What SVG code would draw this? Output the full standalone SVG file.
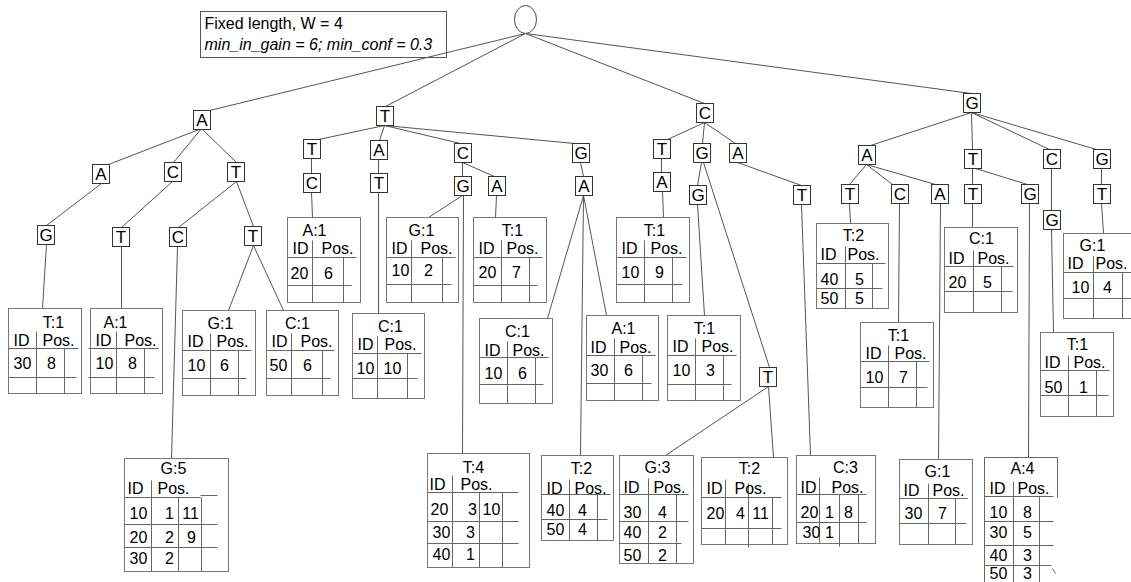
<svg xmlns="http://www.w3.org/2000/svg" width="1131" height="582" viewBox="0 0 1131 582">
<style>
.ln{stroke:#555;stroke-width:1;fill:none}
.bx{fill:#fff;stroke:#333;stroke-width:1}
.tb{fill:#fff;stroke:#777;stroke-width:1}
.tl{stroke:#666;stroke-width:1;fill:none}
text{font-family:"Liberation Sans",Arial,sans-serif;font-size:16px;fill:#000}
.c{text-anchor:middle}
.lt{font-size:17px;text-anchor:middle}
.it{font-style:italic}
</style>
<rect width="1131" height="582" fill="#fff"/>
<g transform="translate(0.5,0.5)">

<!-- parameters legend -->
<g id="legend">
  <rect x="200" y="11" width="246" height="46" fill="#fff" stroke="#555"/>
  <text x="204" y="28">Fixed length, W = 4</text>
  <text class="it" x="204" y="49">min_in_gain = 6; min_conf = 0.3</text>
</g>

<!-- tree edges -->
<g id="connectors" class="ln">
  <path d="M525,33L209,110M525,33L385,106M525,33L704,103M525,33L971,93"/>
  <path d="M201,128L108,164M201,128L173,162M201,128L236,162M101,183L46,225M172,181L121,227M236,181L178,227M236,181L253,226M46,244L42,308M121,246L121,308M177,246L171,458M253,245L228,310M253,245L283,310"/>
  <path d="M384,125L318,139M384,125L379,140M384,125L460,143M384,125L574,143M311,158L311,173M378,159L378,173M462,162L462,176M462,162L494,176M580,162L583,176M311,192L312,217M378,192L378,313M462,195L428,217M463,195L462,453M496,195L495,217M583,195L547,318M583,195L580,455M583,195L606,315"/>
  <path d="M704,122L667,139M704,122L702,143M704,122L735,143M661,158L661,172M701,162L697,185M703,162L769,367M737,162L801,185M662,191L663,217M697,204L704,315M768,386L665,455M768,386L773,457M801,204L810,455"/>
  <path d="M971,112L870,145M971,112L972,149M971,112L1049,149M971,112L1096,149M866,164L849,184M866,164L892,184M866,164L935,184M972,168L972,184M975,168L1027,184M1051,168L1051,210M1101,168L1101,184M849,203L850,223M899,203L898,322M940,203L938,459M972,203L972,227M1029,203L1028,457M1051,229L1053,332M1101,203L1103,233"/>
</g>

<!-- root -->
<g id="root"><ellipse cx="525" cy="19" rx="11" ry="14" fill="#fff" stroke="#444"/></g>

<!-- symbol nodes -->
<g id="n-A" transform="translate(193,110)"><rect class="bx" width="17" height="19"/><text class="lt" x="8.5" y="15.5">A</text></g>
<g id="n-T" transform="translate(376,106)"><rect class="bx" width="17" height="19"/><text class="lt" x="8.5" y="15.5">T</text></g>
<g id="n-C" transform="translate(696,103)"><rect class="bx" width="17" height="19"/><text class="lt" x="8.5" y="15.5">C</text></g>
<g id="n-G" transform="translate(963,93)"><rect class="bx" width="17" height="19"/><text class="lt" x="8.5" y="15.5">G</text></g>

<g id="n-AA" transform="translate(92,164)"><rect class="bx" width="17" height="19"/><text class="lt" x="8.5" y="15.5">A</text></g>
<g id="n-AC" transform="translate(164,162)"><rect class="bx" width="17" height="19"/><text class="lt" x="8.5" y="15.5">C</text></g>
<g id="n-AT" transform="translate(227,162)"><rect class="bx" width="17" height="19"/><text class="lt" x="8.5" y="15.5">T</text></g>
<g id="n-AAG" transform="translate(37,225)"><rect class="bx" width="17" height="19"/><text class="lt" x="8.5" y="15.5">G</text></g>
<g id="n-ACT" transform="translate(112,227)"><rect class="bx" width="17" height="19"/><text class="lt" x="8.5" y="15.5">T</text></g>
<g id="n-ATC" transform="translate(169,227)"><rect class="bx" width="17" height="19"/><text class="lt" x="8.5" y="15.5">C</text></g>
<g id="n-ATT" transform="translate(244,226)"><rect class="bx" width="17" height="19"/><text class="lt" x="8.5" y="15.5">T</text></g>

<g id="n-TT" transform="translate(303,139)"><rect class="bx" width="17" height="19"/><text class="lt" x="8.5" y="15.5">T</text></g>
<g id="n-TA" transform="translate(370,140)"><rect class="bx" width="17" height="19"/><text class="lt" x="8.5" y="15.5">A</text></g>
<g id="n-TC" transform="translate(454,143)"><rect class="bx" width="17" height="19"/><text class="lt" x="8.5" y="15.5">C</text></g>
<g id="n-TG" transform="translate(572,143)"><rect class="bx" width="17" height="19"/><text class="lt" x="8.5" y="15.5">G</text></g>
<g id="n-TTC" transform="translate(303,173)"><rect class="bx" width="17" height="19"/><text class="lt" x="8.5" y="15.5">C</text></g>
<g id="n-TAT" transform="translate(370,173)"><rect class="bx" width="17" height="19"/><text class="lt" x="8.5" y="15.5">T</text></g>
<g id="n-TCG" transform="translate(454,176)"><rect class="bx" width="17" height="19"/><text class="lt" x="8.5" y="15.5">G</text></g>
<g id="n-TCA" transform="translate(488,176)"><rect class="bx" width="17" height="19"/><text class="lt" x="8.5" y="15.5">A</text></g>
<g id="n-TGA" transform="translate(575,176)"><rect class="bx" width="17" height="19"/><text class="lt" x="8.5" y="15.5">A</text></g>

<g id="n-CT" transform="translate(653,139)"><rect class="bx" width="17" height="19"/><text class="lt" x="8.5" y="15.5">T</text></g>
<g id="n-CG" transform="translate(693,143)"><rect class="bx" width="17" height="19"/><text class="lt" x="8.5" y="15.5">G</text></g>
<g id="n-CA" transform="translate(729,143)"><rect class="bx" width="17" height="19"/><text class="lt" x="8.5" y="15.5">A</text></g>
<g id="n-CTA" transform="translate(653,172)"><rect class="bx" width="17" height="19"/><text class="lt" x="8.5" y="15.5">A</text></g>
<g id="n-CGG" transform="translate(689,185)"><rect class="bx" width="17" height="19"/><text class="lt" x="8.5" y="15.5">G</text></g>
<g id="n-CAT" transform="translate(793,185)"><rect class="bx" width="17" height="19"/><text class="lt" x="8.5" y="15.5">T</text></g>
<g id="n-CGT" transform="translate(759,367)"><rect class="bx" width="17" height="19"/><text class="lt" x="8.5" y="15.5">T</text></g>

<g id="n-GA" transform="translate(858,145)"><rect class="bx" width="17" height="19"/><text class="lt" x="8.5" y="15.5">A</text></g>
<g id="n-GT" transform="translate(964,149)"><rect class="bx" width="17" height="19"/><text class="lt" x="8.5" y="15.5">T</text></g>
<g id="n-GC" transform="translate(1043,149)"><rect class="bx" width="17" height="19"/><text class="lt" x="8.5" y="15.5">C</text></g>
<g id="n-GG" transform="translate(1093,149)"><rect class="bx" width="17" height="19"/><text class="lt" x="8.5" y="15.5">G</text></g>
<g id="n-GAT" transform="translate(841,184)"><rect class="bx" width="17" height="19"/><text class="lt" x="8.5" y="15.5">T</text></g>
<g id="n-GAC" transform="translate(891,184)"><rect class="bx" width="17" height="19"/><text class="lt" x="8.5" y="15.5">C</text></g>
<g id="n-GAA" transform="translate(931,184)"><rect class="bx" width="17" height="19"/><text class="lt" x="8.5" y="15.5">A</text></g>
<g id="n-GTT" transform="translate(964,184)"><rect class="bx" width="17" height="19"/><text class="lt" x="8.5" y="15.5">T</text></g>
<g id="n-GTG" transform="translate(1021,184)"><rect class="bx" width="17" height="19"/><text class="lt" x="8.5" y="15.5">G</text></g>
<g id="n-GCG" transform="translate(1043,210)"><rect class="bx" width="17" height="19"/><text class="lt" x="8.5" y="15.5">G</text></g>
<g id="n-GGT" transform="translate(1093,184)"><rect class="bx" width="17" height="19"/><text class="lt" x="8.5" y="15.5">T</text></g>

<!-- occurrence tables: count, then ID / position rows -->
<g id="tab-AAGT" transform="translate(8,308)">
  <rect class="tb" width="73" height="85"/>
  <path class="tl" d="M28,23V85M0,40H70M56,40V85M0,69H68"/>
  <text class="c" x="45" y="19">T:1</text><text x="5" y="37">ID</text><text x="34" y="37">Pos.</text>
  <text x="5" y="60">30</text><text class="c" x="43" y="60">8</text>
</g>
<g id="tab-ACTA" transform="translate(90,308)">
  <rect class="tb" width="72" height="85"/>
  <path class="tl" d="M26,23V85M-2,40H68M54,40V85M-2,69H64"/>
  <text class="c" x="25" y="19">A:1</text><text x="5" y="37">ID</text><text x="34" y="37">Pos.</text>
  <text x="5" y="60">10</text><text class="c" x="42" y="60">8</text>
</g>
<g id="tab-ATCG" transform="translate(124,458)">
  <rect class="tb" width="104" height="113"/>
  <path class="tl" d="M27,22V113M0,39H76M76,37H93M54,39V113M77,39V113M0,66H93M0,89H93"/>
  <text class="c" x="49" y="15">G:5</text><text x="3" y="35">ID</text><text x="33" y="35">Pos.</text>
  <text x="5" y="60">10</text><text class="c" x="45" y="60">1</text><text class="c" x="66" y="60">11</text>
  <text x="5" y="84">20</text><text class="c" x="45" y="84">2</text><text class="c" x="67" y="84">9</text>
  <text x="5" y="105">30</text><text class="c" x="45" y="105">2</text>
</g>
<g id="tab-ATTG" transform="translate(182,310)">
  <rect class="tb" width="73" height="85"/>
  <path class="tl" d="M28,23V85M0,40H69M56,40V85M0,68H64"/>
  <text class="c" x="38" y="18">G:1</text><text x="5" y="36">ID</text><text x="34" y="36">Pos.</text>
  <text x="5" y="60">10</text><text class="c" x="42" y="60">6</text>
</g>
<g id="tab-ATTC" transform="translate(266,310)">
  <rect class="tb" width="72" height="85"/>
  <path class="tl" d="M25,23V85M0,40H68M56,40V85M0,68H64"/>
  <text class="c" x="31" y="18">C:1</text><text x="5" y="36">ID</text><text x="34" y="36">Pos.</text>
  <text x="3" y="60">50</text><text class="c" x="41" y="60">6</text>
</g>

<g id="tab-TTCA" transform="translate(287,217)">
  <rect class="tb" width="73" height="85"/>
  <path class="tl" d="M25,23V85M0,40H69M56,40V85M0,68H64"/>
  <text class="c" x="27" y="18">A:1</text><text x="5" y="36">ID</text><text x="34" y="36">Pos.</text>
  <text x="3" y="61">20</text><text class="c" x="41" y="61">6</text>
</g>
<g id="tab-TATC" transform="translate(352,313)">
  <rect class="tb" width="72" height="85"/>
  <path class="tl" d="M25,23V85M0,40H69M55,40V85M0,65H65"/>
  <text class="c" x="38" y="18">C:1</text><text x="5" y="36">ID</text><text x="32" y="36">Pos.</text>
  <text x="4" y="60">10</text><text class="c" x="40" y="60">10</text>
</g>
<g id="tab-TCGG" transform="translate(386,217)">
  <rect class="tb" width="72" height="85"/>
  <path class="tl" d="M25,23V85M0,40H69M56,40V85M0,67H65"/>
  <text class="c" x="35" y="18">G:1</text><text x="5" y="36">ID</text><text x="34" y="36">Pos.</text>
  <text x="5" y="58">10</text><text class="c" x="42" y="58">2</text>
</g>
<g id="tab-TCAT" transform="translate(473,217)">
  <rect class="tb" width="73" height="85"/>
  <path class="tl" d="M28,23V85M0,40H69M56,40V85M0,68H64"/>
  <text class="c" x="39" y="18">T:1</text><text x="5" y="36">ID</text><text x="33" y="36">Pos.</text>
  <text x="5" y="60">20</text><text class="c" x="43" y="60">7</text>
</g>
<g id="tab-TCGT" transform="translate(427,453)">
  <rect class="tb" width="102" height="114"/>
  <path class="tl" d="M25,22V114M0,39H91M52,39V114M75,39V114M0,68H91M0,90H91"/>
  <text class="c" x="46" y="19">T:4</text><text x="2" y="36">ID</text><text x="33" y="36">Pos.</text>
  <text x="3" y="61">20</text><text class="c" x="45" y="61">3</text><text class="c" x="64" y="61">10</text>
  <text x="5" y="84">30</text><text class="c" x="43" y="84">3</text>
  <text x="5" y="106">40</text><text class="c" x="43" y="106">1</text>
</g>
<g id="tab-TGAC" transform="translate(479,318)">
  <rect class="tb" width="73" height="85"/>
  <path class="tl" d="M28,23V85M0,39H69M56,39V85M0,66H64"/>
  <text class="c" x="38" y="18">C:1</text><text x="5" y="37">ID</text><text x="33" y="37">Pos.</text>
  <text x="5" y="60">10</text><text class="c" x="43" y="60">6</text>
</g>
<g id="tab-TGAT" transform="translate(541,455)">
  <rect class="tb" width="72" height="85"/>
  <path class="tl" d="M28,24V85M0,39H69M56,39V85M0,64H66"/>
  <text class="c" x="40" y="18">T:2</text><text x="5" y="38">ID</text><text x="33" y="38">Pos.</text>
  <text x="5" y="60">40</text><text class="c" x="41" y="60">4</text>
  <text x="5" y="79">50</text><text class="c" x="41" y="79">4</text>
</g>
<g id="tab-TGAA" transform="translate(586,315)">
  <rect class="tb" width="72" height="85"/>
  <path class="tl" d="M28,23V85M0,40H69M56,40V85M0,68H65"/>
  <text class="c" x="37" y="18">A:1</text><text x="4" y="37">ID</text><text x="33" y="37">Pos.</text>
  <text x="4" y="60">30</text><text class="c" x="42" y="60">6</text>
</g>

<g id="tab-CTAT" transform="translate(616,217)">
  <rect class="tb" width="73" height="85"/>
  <path class="tl" d="M28,23V85M0,40H70M56,40V85M0,67H66"/>
  <text class="c" x="38" y="18">T:1</text><text x="5" y="36">ID</text><text x="34" y="36">Pos.</text>
  <text x="5" y="60">10</text><text class="c" x="43" y="60">9</text>
</g>
<g id="tab-CGGT" transform="translate(667,315)">
  <rect class="tb" width="73" height="85"/>
  <path class="tl" d="M28,23V85M0,40H69M56,40V85M0,69H64"/>
  <text class="c" x="37" y="18">T:1</text><text x="5" y="36">ID</text><text x="34" y="36">Pos.</text>
  <text x="5" y="60">10</text><text class="c" x="43" y="60">3</text>
</g>
<g id="tab-CGTG" transform="translate(619,455)">
  <rect class="tb" width="74" height="108"/>
  <path class="tl" d="M29,23V108M0,39H69M57,39V108M0,66H69M0,88H62"/>
  <text class="c" x="38" y="17">G:3</text><text x="4" y="37">ID</text><text x="34" y="37">Pos.</text>
  <text x="4" y="62">30</text><text class="c" x="43" y="62">4</text>
  <text x="4" y="82">40</text><text class="c" x="43" y="82">2</text>
  <text x="4" y="105">50</text><text class="c" x="43" y="105">2</text>
</g>
<g id="tab-CGTT" transform="translate(701,457)">
  <rect class="tb" width="86" height="87"/>
  <path class="tl" d="M24,22V87M0,40H80M47,26V90M71,40V87M0,71H80"/>
  <text class="c" x="48" y="16">T:2</text><text x="5" y="36">ID</text><text x="33" y="36">Pos.</text>
  <text x="5" y="61">20</text><text class="c" x="39" y="61">4</text><text class="c" x="59" y="61">11</text>
</g>
<g id="tab-CATC" transform="translate(796,455)">
  <rect class="tb" width="79" height="88"/>
  <path class="tl" d="M23,22V88M0,39H70M43,39V91M62,39V88M0,67H70"/>
  <text class="c" x="49" y="17">C:3</text><text x="4" y="37">ID</text><text x="35" y="37">Pos.</text>
  <text x="4" y="62">20</text><text class="c" x="33" y="62">1</text><text class="c" x="52" y="62">8</text>
  <text x="6" y="82">30</text><text class="c" x="33" y="82">1</text>
</g>

<g id="tab-GATT" transform="translate(816,223)">
  <rect class="tb" width="72" height="85"/>
  <path class="tl" d="M29,23V85M0,40H69M56,40V85M0,65H66"/>
  <text class="c" x="37" y="17">T:2</text><text x="4" y="36">ID</text><text x="31" y="36">Pos.</text>
  <text x="4" y="61">40</text><text class="c" x="43" y="61">5</text>
  <text x="4" y="80">50</text><text class="c" x="43" y="80">5</text>
</g>
<g id="tab-GACT" transform="translate(860,322)">
  <rect class="tb" width="73" height="85"/>
  <path class="tl" d="M28,23V85M0,39H69M56,39V85M0,65H67"/>
  <text class="c" x="38" y="18">T:1</text><text x="5" y="36">ID</text><text x="34" y="36">Pos.</text>
  <text x="5" y="60">10</text><text class="c" x="43" y="60">7</text>
</g>
<g id="tab-GAAG" transform="translate(899,459)">
  <rect class="tb" width="73" height="85"/>
  <path class="tl" d="M29,24V85M0,39H68M56,39V85M0,64H67"/>
  <text class="c" x="38" y="17">G:1</text><text x="4" y="36">ID</text><text x="33" y="36">Pos.</text>
  <text x="5" y="59">30</text><text class="c" x="43" y="59">7</text>
</g>
<g id="tab-GTTC" transform="translate(944,227)">
  <rect class="tb" width="73" height="85"/>
  <path class="tl" d="M29,23V85M0,39H69M57,39V85M0,64H68"/>
  <text class="c" x="37" y="16">C:1</text><text x="4" y="36">ID</text><text x="33" y="36">Pos.</text>
  <text x="4" y="60">20</text><text class="c" x="43" y="60">5</text>
</g>
<g id="tab-GTGA" transform="translate(984,457)">
  <path fill="#fff" d="M0,132V0H73V132Z"/>
  <path class="tl" d="M0,132V0H73V40"/>
  <path class="tl" d="M29,24V132M0,39H69M55,39V132M0,64H69M0,88H69M0,108H67M68,111L71,116"/>
  <text class="c" x="38" y="16">A:4</text><text x="5" y="36">ID</text><text x="33" y="36">Pos.</text>
  <text x="5" y="60">10</text><text class="c" x="43" y="60">8</text>
  <text x="5" y="80">30</text><text class="c" x="43" y="80">5</text>
  <text x="5" y="103">40</text><text class="c" x="43" y="103">3</text>
  <text x="5" y="121">50</text><text class="c" x="43" y="121">3</text>
</g>
<g id="tab-GCGT" transform="translate(1040,332)">
  <rect class="tb" width="73" height="84"/>
  <path class="tl" d="M28,23V84M0,38H69M56,38V84M0,63H68"/>
  <text class="c" x="37" y="17">T:1</text><text x="4" y="35">ID</text><text x="33" y="35">Pos.</text>
  <text x="4" y="60">50</text><text class="c" x="43" y="60">1</text>
</g>
<g id="tab-GGTG" transform="translate(1063,233)">
  <rect class="tb" width="73" height="85"/>
  <path class="tl" d="M30,23V85M0,39H73M59,39V85M0,65H73"/>
  <text class="c" x="29" y="17">G:1</text><text x="4" y="35">ID</text><text x="32" y="35">Pos.</text>
  <text x="8" y="59">10</text><text class="c" x="44" y="59">4</text>
</g>
</g>
</svg>
